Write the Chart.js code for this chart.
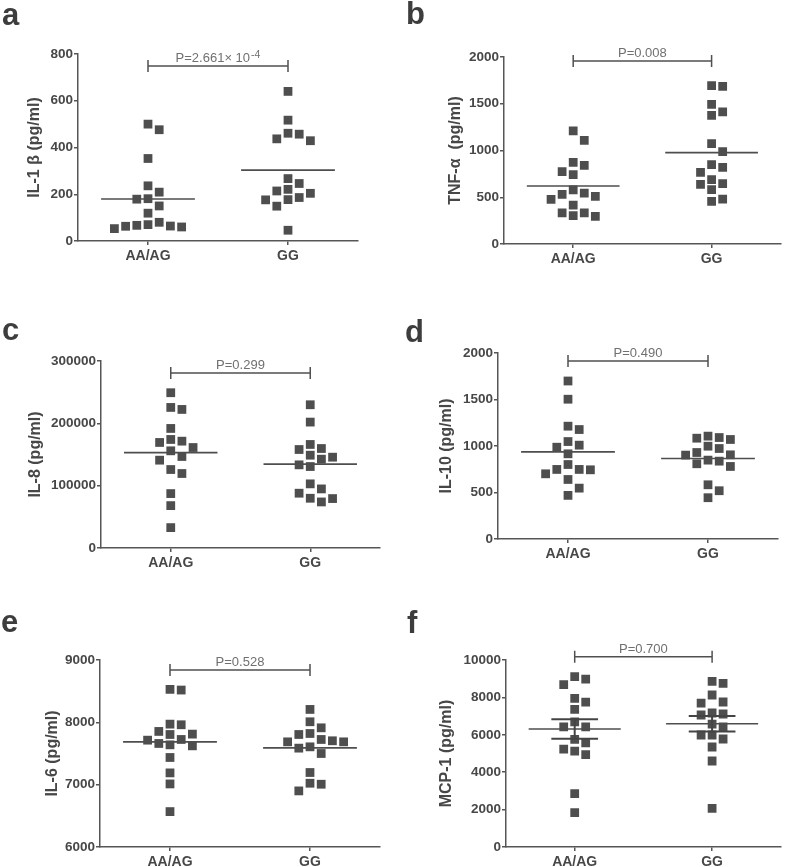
<!DOCTYPE html>
<html>
<head>
<meta charset="utf-8">
<script src="https://cdn.jsdelivr.net/npm/chart.js@4.4.0/dist/chart.umd.min.js"></script>
<style>
  html, body { margin: 0; padding: 0; background: #fff; }
  #wrap { position: relative; width: 787px; height: 867px; overflow: hidden; background: #fff; }
  canvas { position: absolute; }
</style>
</head>
<body>
<div id="wrap"></div>
<script>
// groups on the x axis
const groups = ["AA/AG", "GG"];

// values (pg/ml)
const il1bAA = [500, 476, 353, 236, 209, 179, 181, 150, 119, 80, 67, 64, 53, 60, 63, 70];
const il1bGG = [640, 517, 457, 429, 437, 461, 267, 246, 221, 204, 214, 186, 176, 177, 149, 46];
const tnfAA = [1209, 1109, 841, 873, 742, 774, 545, 510, 478, 531, 578, 417, 332, 296, 303, 332];
const tnfGG = [1693, 1686, 1494, 1376, 1412, 1073, 988, 849, 766, 820, 645, 581, 638, 688, 456, 481];
const il8AA = [249100, 225500, 222300, 191800, 174100, 169300, 171400, 155900, 161200, 146800, 140900, 125900, 119500, 87300, 68000, 32700];
const il8GG = [229800, 202000, 148900, 159600, 158000, 166100, 142500, 130700, 133400, 145700, 102900, 94800, 79800, 73900, 79300, 87900];
const il10AA = [1699, 1503, 1177, 1213, 1009, 987, 1048, 916, 801, 748, 701, 744, 748, 640, 547, 469];
const il10GG = [998, 1091, 1070, 1084, 1106, 930, 905, 973, 902, 837, 780, 809, 848, 583, 519, 444];
const il6AA = [8518, 8529, 7961, 7811, 7805, 7854, 7971, 7725, 7639, 7623, 7661, 7714, 7436, 7189, 7012, 6568];
const il6GG = [8207, 7912, 8009, 7805, 7704, 7607, 7687, 7725, 7821, 7687, 7500, 7586, 7195, 7023, 7007, 6900];
const mcp1AA = [9107, 8982, 8679, 7750, 7946, 7357, 6696, 6429, 6429, 5750, 5571, 5232, 5125, 4946, 2857, 1839];
const mcp1GG = [8750, 8857, 8128, 7754, 7700, 7166, 7059, 7112, 6577, 6417, 5989, 5989, 5775, 5348, 4599, 2071];

// group means (horizontal lines) and SEM for MCP-1
const il1bMeans = [180, 303];
const tnfMeans = [620, 977];
const il8Means = [153000, 134500];
const il10Means = [937, 866];
const il6Means = [7687, 7591];
const mcp1Means = [6310, 6590];
const mcp1Sem = [520, 415];

// y tick labels
const il1bTicks = [0, 200, 400, 600, 800];
const tnfTicks = [0, 500, 1000, 1500, 2000];
const il8Ticks = [0, 100000, 200000, 300000];
const il10Ticks = [0, 500, 1000, 1500, 2000];
const il6Ticks = [6000, 7000, 8000, 9000];
const mcp1Ticks = [0, 2000, 4000, 6000, 8000, 10000];

const letters = ["a", "b", "c", "d", "e", "f"];
const yTitles = ["IL-1 β (pg/ml)", "TNF-α  (pg/ml)", "IL-8 (pg/ml)", "IL-10 (pg/ml)", "IL-6 (pg/ml)", "MCP-1 (pg/ml)"];
const pLabels = ["P=2.661× 10", "P=0.008", "P=0.299", "P=0.490", "P=0.528", "P=0.700"];
const pExponents = ["-4", "", "", "", "", ""];

const panels = [
  { aa: il1bAA, gg: il1bGG, means: il1bMeans, ticks: il1bTicks, bracket: 749 },
  { aa: tnfAA, gg: tnfGG, means: tnfMeans, ticks: tnfTicks, bracket: 1957 },
  { aa: il8AA, gg: il8GG, means: il8Means, ticks: il8Ticks, bracket: 280750 },
  { aa: il10AA, gg: il10GG, means: il10Means, ticks: il10Ticks, bracket: 1914 },
  { aa: il6AA, gg: il6GG, means: il6Means, ticks: il6Ticks, bracket: 8840 },
  { aa: mcp1AA, gg: mcp1GG, means: mcp1Means, ticks: mcp1Ticks, bracket: 10170, sem: mcp1Sem }
];

// canvas boxes and plot area inside each canvas (px)
const boxes = [
  { x: 0,   y: 0,   w: 393, h: 280, left: 78,  right: 358, top: 54, bottom: 241, titleX: 35, lx: 2,  ly: 25 },
  { x: 393, y: 0,   w: 394, h: 280, left: 111, right: 388, top: 57, bottom: 244, titleX: 63, lx: 13, ly: 24 },
  { x: 0,   y: 280, w: 393, h: 300, left: 101, right: 380, top: 81, bottom: 268, titleX: 36, lx: 2,  ly: 60 },
  { x: 393, y: 280, w: 394, h: 300, left: 105, right: 385, top: 73, bottom: 259, titleX: 54, lx: 12, ly: 62 },
  { x: 0,   y: 580, w: 393, h: 287, left: 100, right: 380, top: 80, bottom: 267, titleX: 53, lx: 1,  ly: 52 },
  { x: 393, y: 580, w: 394, h: 287, left: 113, right: 388, top: 80, bottom: 267, titleX: 54, lx: 14, ly: 53 }
];

const FONT = '"Liberation Sans", Arial, Helvetica, sans-serif';
const TEXT = "#474747";
const AXIS = "#565656";
const POINT = "#4e4e4e";
const STEP = 0.08;    // column spacing in x units
const MIN_GAP = 10;   // px, vertical distance that forces a new column

// simple beeswarm: spread points that sit too close vertically into columns
function swarm(values, pxPerUnit) {
  const order = values.map((v, i) => i).sort((i, j) => values[j] - values[i]);
  const placed = [];
  const cols = [];
  order.forEach(i => {
    const py = values[i] * pxPerUnit;
    for (let k = 0; ; k++) {
      const c = k === 0 ? 0 : (k % 2 ? (k + 1) / 2 : -k / 2);
      if (!placed.some(p => p.c === c && Math.abs(p.py - py) < MIN_GAP)) {
        placed.push({ c, py });
        cols[i] = c;
        break;
      }
    }
  });
  return cols;
}

const overlay = {
  id: "overlay",
  afterDatasetsDraw(chart, args, opts) {
    const p = panels[opts.k];
    const { ctx } = chart;
    const x = chart.scales.x, y = chart.scales.y;
    ctx.save();
    ctx.lineCap = "butt";

    // mean lines
    ctx.strokeStyle = POINT;
    ctx.lineWidth = 1.6;
    p.means.forEach((m, g) => {
      const py = y.getPixelForValue(m);
      ctx.beginPath();
      ctx.moveTo(x.getPixelForValue(g - 0.335), py);
      ctx.lineTo(x.getPixelForValue(g + 0.335), py);
      ctx.stroke();
    });

    // SEM bars
    if (p.sem) {
      ctx.lineWidth = 2;
      ctx.strokeStyle = "#444";
      p.means.forEach((m, g) => {
        const cx = x.getPixelForValue(g);
        const up = y.getPixelForValue(m + p.sem[g]);
        const lo = y.getPixelForValue(m - p.sem[g]);
        const x0 = x.getPixelForValue(g - 0.17), x1 = x.getPixelForValue(g + 0.17);
        ctx.beginPath();
        ctx.moveTo(cx, up); ctx.lineTo(cx, lo);
        ctx.moveTo(x0, up); ctx.lineTo(x1, up);
        ctx.moveTo(x0, lo); ctx.lineTo(x1, lo);
        ctx.stroke();
      });
    }

    // significance bracket
    const by = y.getPixelForValue(p.bracket);
    const bx0 = x.getPixelForValue(0), bx1 = x.getPixelForValue(1);
    ctx.strokeStyle = "#505050";
    ctx.lineWidth = 1.5;
    ctx.beginPath();
    ctx.moveTo(bx0, by); ctx.lineTo(bx1, by);
    ctx.moveTo(bx0, by - 6); ctx.lineTo(bx0, by + 6);
    ctx.moveTo(bx1, by - 6); ctx.lineTo(bx1, by + 6);
    ctx.stroke();

    // P value
    const main = pLabels[opts.k], sup = pExponents[opts.k];
    ctx.fillStyle = "#707070";
    ctx.textBaseline = "alphabetic";
    ctx.textAlign = "left";
    ctx.font = "13px " + FONT;
    const wMain = ctx.measureText(main).width;
    ctx.font = "10.5px " + FONT;
    const wSup = sup ? ctx.measureText(sup).width + 1 : 0;
    let tx = (bx0 + bx1) / 2 - (wMain + wSup) / 2;
    ctx.font = "13px " + FONT;
    ctx.fillText(main, tx, by - 4);
    if (sup) {
      ctx.font = "10.5px " + FONT;
      ctx.fillText(sup, tx + wMain + 1, by - 8);
    }

    // panel letter
    ctx.fillStyle = "#3d3d3d";
    ctx.font = "bold 31px " + FONT;
    ctx.fillText(letters[opts.k], boxes[opts.k].lx, boxes[opts.k].ly);
    ctx.restore();
  }
};

const wrap = document.getElementById("wrap");

panels.forEach((p, k) => {
  const b = boxes[k];
  const canvas = document.createElement("canvas");
  canvas.width = b.w;
  canvas.height = b.h;
  canvas.style.left = b.x + "px";
  canvas.style.top = b.y + "px";
  canvas.style.width = b.w + "px";
  canvas.style.height = b.h + "px";
  wrap.appendChild(canvas);

  const ymin = p.ticks[0], ymax = p.ticks[p.ticks.length - 1];
  const pxPerUnit = (b.bottom - b.top) / (ymax - ymin);

  const datasets = [p.aa, p.gg].map((vals, g) => {
    const cols = swarm(vals, pxPerUnit);
    return {
      data: vals.map((v, i) => ({ x: g + cols[i] * STEP, y: v })),
      pointStyle: "rect",
      pointRadius: 6.2,
      pointHoverRadius: 6.2,
      pointBackgroundColor: POINT,
      pointBorderWidth: 0,
      showLine: false
    };
  });

  new Chart(canvas, {
    type: "scatter",
    data: { datasets },
    options: {
      responsive: false,
      animation: false,
      events: [],
      layout: { padding: { top: b.top, left: 0, right: b.w - b.right, bottom: 0 } },
      plugins: { legend: { display: false }, tooltip: { enabled: false }, overlay: { k } },
      scales: {
        x: {
          type: "linear",
          min: -0.5,
          max: 1.5,
          afterBuildTicks: s => { s.ticks = [{ value: 0 }, { value: 1 }]; },
          afterFit: s => { s.height = b.h - b.bottom; },
          ticks: {
            callback: v => groups[v],
            color: TEXT,
            font: { family: FONT, size: 14, weight: "bold" },
            padding: 3,
            maxRotation: 0,
            autoSkip: false
          },
          grid: { display: true, drawOnChartArea: false, drawTicks: true, tickLength: 4, color: AXIS, lineWidth: 1.5 },
          border: { display: true, color: AXIS, width: 1.5 }
        },
        y: {
          min: ymin,
          max: ymax,
          afterBuildTicks: s => { s.ticks = p.ticks.map(v => ({ value: v })); },
          afterFit: s => { s.width = b.left; },
          ticks: {
            callback: v => String(v),
            color: TEXT,
            font: { family: FONT, size: 13.5, weight: "bold" },
            padding: 1
          },
          grid: { display: true, drawOnChartArea: false, drawTicks: true, tickLength: 4, color: AXIS, lineWidth: 1.5 },
          border: { display: true, color: AXIS, width: 1.5 },
          title: {
            display: true,
            text: yTitles[k],
            color: TEXT,
            font: { family: FONT, size: 16, weight: "bold" },
            padding: { top: b.titleX - 9.6, bottom: 0 }
          }
        }
      }
    },
    plugins: [overlay]
  });
});
</script>
</body>
</html>
